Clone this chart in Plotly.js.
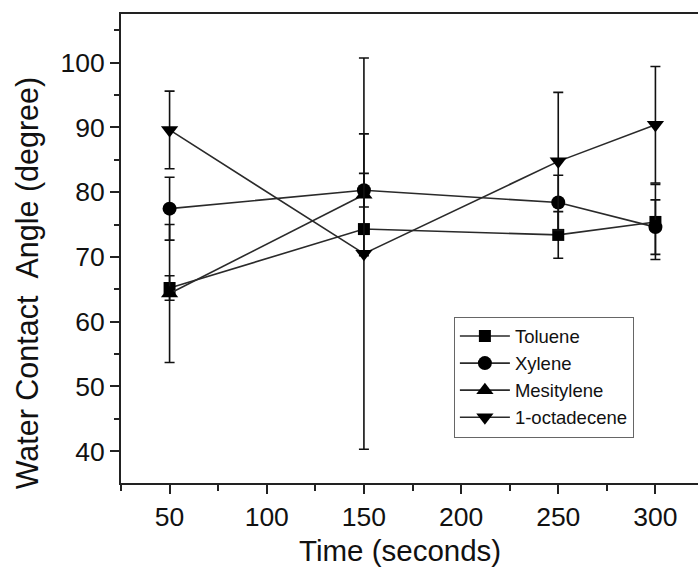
<!DOCTYPE html>
<html>
<head>
<meta charset="utf-8">
<script src="https://cdn.plot.ly/plotly-3.0.1.min.js"></script>
<style>
  html, body { margin: 0; padding: 0; background: #fff; overflow: hidden; }
  #chart { width: 720px; height: 573px; }
</style>
</head>
<body>
<div id="chart"></div>
<script>
// Water contact angle vs. treatment time for four solvents
const time = [50, 150, 250, 300];
const timeMesitylene = [50, 150];

const toluene = [65.2, 74.3, 73.4, 75.4];
const tolueneErr = [1.9, 0.5, 3.6, 5.8];

const xylene = [77.45, 80.3, 78.4, 74.6];
const xyleneErr = [4.85, 2.6, 4.2, 4.2];

const mesitylene = [64.35, 79.6];
const mesityleneErr = [10.65, 9.4];

const octadecene = [89.6, 70.5, 84.75, 90.4];
const octadeceneErr = [6.0, 30.2, 10.65, 9.0];

const xTicks = [50, 100, 150, 200, 250, 300];
const yTicks = [40, 50, 60, 70, 80, 90, 100];

const xTitle = 'Time (seconds)';
const yTitle = 'Water Contact\u00a0\u00a0Angle (degree)';

const lineColor = '#2a2a2a';
const fontFam = '"Liberation Sans", Arial, sans-serif';

function series(name, xs, ys, errs, symbol, size) {
  return {
    type: 'scatter',
    mode: 'lines+markers',
    name: name,
    x: xs,
    y: ys,
    line: { color: lineColor, width: 1.6 },
    marker: { symbol: symbol, size: size, color: '#000', line: { width: 0 } },
    error_y: { type: 'data', array: errs, visible: true, color: '#111', thickness: 1.6, width: 5 }
  };
}

const data = [
  series('Toluene', time, toluene, tolueneErr, 'square', 12),
  series('Xylene', time, xylene, xyleneErr, 'circle', 14),
  series('Mesitylene', timeMesitylene, mesitylene, mesityleneErr, 'triangle-up', 15),
  series('1-octadecene', time, octadecene, octadeceneErr, 'triangle-down', 15)
];

const axisCommon = {
  showline: true,
  linecolor: '#222',
  linewidth: 2,
  mirror: true,
  showgrid: false,
  zeroline: false,
  ticks: 'outside',
  ticklen: 9,
  tickwidth: 2,
  tickcolor: '#222',
  tickfont: { family: fontFam, size: 26.5, color: '#111' }
};

const titleFont = { family: fontFam, size: 30.5, color: '#111' };

const layout = {
  width: 720,
  height: 573,
  margin: { l: 121, r: 16.4, t: 14, b: 90 },
  paper_bgcolor: '#fff',
  plot_bgcolor: '#fff',
  showlegend: true,
  xaxis: Object.assign({}, axisCommon, {
    range: [25, 325],
    tickvals: xTicks,
    ticktext: xTicks.map(String),
    minor: { ticks: 'outside', ticklen: 6, tickwidth: 2, tickcolor: '#222', dtick: 25, tick0: 0 }
  }),
  yaxis: Object.assign({}, axisCommon, {
    range: [35.1, 107.5],
    tickvals: yTicks,
    ticktext: yTicks.map(String),
    minor: { ticks: 'outside', ticklen: 5, tickwidth: 2, tickcolor: '#222', dtick: 5, tick0: 0 }
  }),
  // axis titles placed as annotations so they can sit off-centre
  annotations: [
    {
      text: xTitle, xref: 'paper', yref: 'paper',
      x: 0.479, y: -0.143, xanchor: 'center', yanchor: 'middle',
      showarrow: false, font: { family: fontFam, size: 29.5, color: '#111' }
    },
    {
      text: yTitle, xref: 'paper', yref: 'paper', textangle: -90,
      x: -0.161, y: 0.426, xanchor: 'center', yanchor: 'middle',
      showarrow: false, font: titleFont
    }
  ],
  legend: {
    x: 0.571,
    y: 0.355,
    xanchor: 'left',
    yanchor: 'top',
    bgcolor: '#fff',
    bordercolor: '#666',
    borderwidth: 1,
    itemwidth: 50,
    font: { family: fontFam, size: 18.5, color: '#111' },
    tracegroupgap: 0
  }
};

Plotly.newPlot('chart', data, layout, { displayModeBar: false, staticPlot: true });
</script>
</body>
</html>
